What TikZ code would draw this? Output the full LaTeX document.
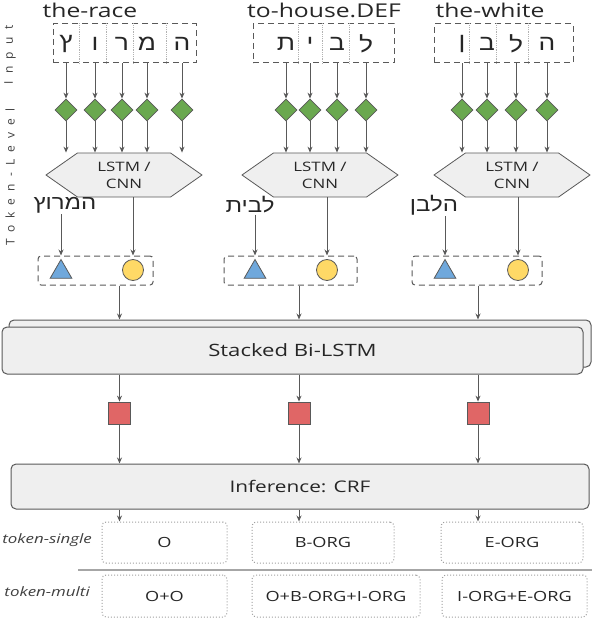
\documentclass[tikz,border=0pt]{standalone}
\usepackage{fontspec}
\setmainfont{Open Sans}[FakeStretch=1.3]
\newfontfamily\hebfont[Script=Hebrew,FakeStretch=1.2]{Liberation Sans}
\newfontfamily\sidefont[LetterSpace=60]{Open Sans}
\TeXXeTstate=1
\usetikzlibrary{shapes.geometric,shapes.symbols,arrows.meta}

\definecolor{linec}{HTML}{595959}
\definecolor{boxfill}{HTML}{EFEFEF}
\definecolor{gemgreen}{HTML}{6AA84F}
\definecolor{triblue}{HTML}{6FA8DC}
\definecolor{dotyellow}{HTML}{FFD966}
\definecolor{sqred}{HTML}{E06666}

\tikzset{
  arr/.style={-{Stealth[length=6pt,width=5pt]}, draw=linec, line width=1pt},
  title/.style={font=\fontsize{19}{22}\selectfont, text=black!85, inner sep=0},
  letter/.style={font=\hebfont\fontsize{22}{24}\selectfont, text=black!85, inner sep=0},
  word/.style={font=\hebfont\fontsize{20}{22}\selectfont, text=black!85, inner sep=1pt},
  inbox/.style={draw=linec, dash pattern=on 6pt off 4pt, line width=1pt, inner sep=0},
  divider/.style={draw=gray!60, densely dotted, line width=0.8pt},
  gem/.style={diamond, draw=linec, fill=gemgreen, line width=0.8pt, minimum size=22pt, inner sep=0},
  hexbox/.style={signal, signal to=west and east, signal pointer angle=70, draw=linec, fill=boxfill,
    line width=0.8pt, minimum height=44pt, minimum width=156pt, inner sep=0, align=center,
    font=\fontsize{13}{17}\selectfont, text=black!85},
  tri/.style={regular polygon, regular polygon sides=3, draw=linec, fill=triblue, line width=0.8pt, minimum size=25pt, inner sep=0},
  dot/.style={circle, draw=linec, fill=dotyellow, line width=0.8pt, minimum size=21pt, inner sep=0},
  sq/.style={rectangle, draw=linec, fill=sqred, line width=0.8pt, minimum size=22pt, inner sep=0},
  layerbox/.style={draw=linec, fill=boxfill, rounded corners=5pt, line width=1pt, inner sep=0,
    font=\fontsize{17}{20}\selectfont, text=black!85},
  outbox/.style={draw=gray!75, dotted, rounded corners=4pt, line width=1pt, inner sep=0,
    font=\fontsize{14}{16}\selectfont, text=black!85},
  rowlab/.style={anchor=east, font=\itshape\fontsize{13}{15}\selectfont, text=black!75, inner sep=0},
  sidelab/.style={rotate=90, font=\sidefont\fontsize{12}{14}\selectfont, text=black!75, inner sep=0}
}

\begin{document}
\begin{tikzpicture}[x=1pt, y=-1pt]
  \useasboundingbox (0,0) rectangle (592,618);

  % side labels
  \node[sidelab] (sideIn) at (10,55) {Input};
  \node[sidelab] (sideTok) at (10,177) {Token-Level};

  % titles
  \node[title] (t1) at (90,10) {the-race};
  \node[title] (t2) at (324,10) {to-house.DEF};
  \node[title] (t3) at (490,10) {the-white};

  % token encoders
  \node[hexbox] (h1) at (124,175) {LSTM /\\CNN};
  \node[hexbox] (h2) at (320,175) {LSTM /\\CNN};
  \node[hexbox] (h3) at (512,175) {LSTM /\\CNN};

  % group 1
  \node[inbox, minimum width=143pt, minimum height=39pt] (in1) at (124.5,43.5) {};
  \foreach \x in {79,106,133,166} \draw[divider] (\x,0 |- in1.north) -- (\x,0 |- in1.south);
  \foreach \x/\l [count=\i] in {66/ץ,95/ו,122/ר,147/מ,182/ה} {
    \node[letter] (c1\i) at (\x,44) {\l};
    \node[gem] (d1\i) at (\x,110) {};
    \draw[arr] (c1\i |- in1.south) -- (d1\i);
    \draw[arr] (d1\i) -- (d1\i |- h1.north);
  }
  \node[word] (w1) at (65,205) {\beginR המרוץ\endR};
  \node[inbox, minimum width=115pt, minimum height=29pt, rounded corners=3pt] (g1) at (95.5,270.5) {};
  \node[tri] (tri1) at (61,272) {};
  \node[dot] (dot1) at (133,270) {};
  \draw[arr] (tri1 |- w1.south) -- (tri1 |- g1.north);
  \draw[arr] (dot1 |- h1.south) -- (dot1 |- g1.north);

  % group 2
  \node[inbox, minimum width=141pt, minimum height=39pt] (in2) at (323.5,43.5) {};
  \foreach \x in {298,322,349} \draw[divider] (\x,0 |- in2.north) -- (\x,0 |- in2.south);
  \foreach \x/\l [count=\i] in {286/ת,310/י,337/ב,366/ל} {
    \node[letter] (c2\i) at (\x,44) {\l};
    \node[gem] (d2\i) at (\x,110) {};
    \draw[arr] (c2\i |- in2.south) -- (d2\i);
    \draw[arr] (d2\i) -- (d2\i |- h2.north);
  }
  \node[word] (w2) at (250,205) {\beginR לבית\endR};
  \node[inbox, minimum width=133pt, minimum height=29pt, rounded corners=3pt] (g2) at (290.5,270.5) {};
  \node[tri] (tri2) at (255,272) {};
  \node[dot] (dot2) at (327,270) {};
  \draw[arr] (tri2 |- w2.south) -- (tri2 |- g2.north);
  \draw[arr] (dot2 |- h2.south) -- (dot2 |- g2.north);

  % group 3
  \node[inbox, minimum width=139pt, minimum height=39pt] (in3) at (503.5,43.5) {};
  \foreach \x in {469,496,528} \draw[divider] (\x,0 |- in3.north) -- (\x,0 |- in3.south);
  \foreach \x/\l [count=\i] in {462/ן,487/ב,516/ל,547/ה} {
    \node[letter] (c3\i) at (\x,44) {\l};
    \node[gem] (d3\i) at (\x,110) {};
    \draw[arr] (c3\i |- in3.south) -- (d3\i);
    \draw[arr] (d3\i) -- (d3\i |- h3.north);
  }
  \node[word] (w3) at (434,205) {\beginR הלבן\endR};
  \node[inbox, minimum width=130pt, minimum height=29pt, rounded corners=3pt] (g3) at (477,270.5) {};
  \node[tri] (tri3) at (445,272) {};
  \node[dot] (dot3) at (518,270) {};
  \draw[arr] (tri3 |- w3.south) -- (tri3 |- g3.north);
  \draw[arr] (dot3 |- h3.south) -- (dot3 |- g3.north);

  % sentence level
  \node[layerbox, minimum width=582pt, minimum height=47pt] (lstmback) at (300,343.5) {};
  \node[layerbox, minimum width=581pt, minimum height=47pt] (lstm) at (292.5,350.5) {Stacked Bi-LSTM};
  \node[sq] (sq1) at (119.5,413) {};
  \node[sq] (sq2) at (299,413) {};
  \node[sq] (sq3) at (478,413) {};
  \node[layerbox, minimum width=578pt, minimum height=45pt, font=\fontsize{16}{19}\selectfont] (crf) at (300,486.5) {Inference: CRF};

  % outputs
  \node[outbox, minimum width=125pt, minimum height=41pt] (o11) at (164.5,542.5) {O};
  \node[outbox, minimum width=142pt, minimum height=41pt] (o12) at (323,542.5) {B-ORG};
  \node[outbox, minimum width=142pt, minimum height=41pt] (o13) at (512,542.5) {E-ORG};
  \node[outbox, minimum width=125pt, minimum height=42pt] (o21) at (164.5,596) {O+O};
  \node[outbox, minimum width=168pt, minimum height=42pt] (o22) at (336,596) {O+B-ORG+I-ORG};
  \node[outbox, minimum width=145pt, minimum height=42pt] (o23) at (514.5,596) {I-ORG+E-ORG};
  \node[rowlab] (lab1) at (92,540) {token-single};
  \node[rowlab] (lab2) at (90,592) {token-multi};
  \coordinate (sepL) at (78,570);
  \coordinate (sepR) at (592,570);
  \draw[gray!70, line width=1.5pt] (sepL) -- (sepR);

  \foreach \i in {1,2,3} {
    \draw[arr] (sq\i |- g\i.south) -- (sq\i |- lstmback.north);
    \draw[arr] (sq\i |- lstm.south) -- (sq\i);
    \draw[arr] (sq\i) -- (sq\i |- crf.north);
    \draw[arr] (sq\i |- crf.south) -- (sq\i |- o1\i.north);
  }
\end{tikzpicture}
\end{document}
